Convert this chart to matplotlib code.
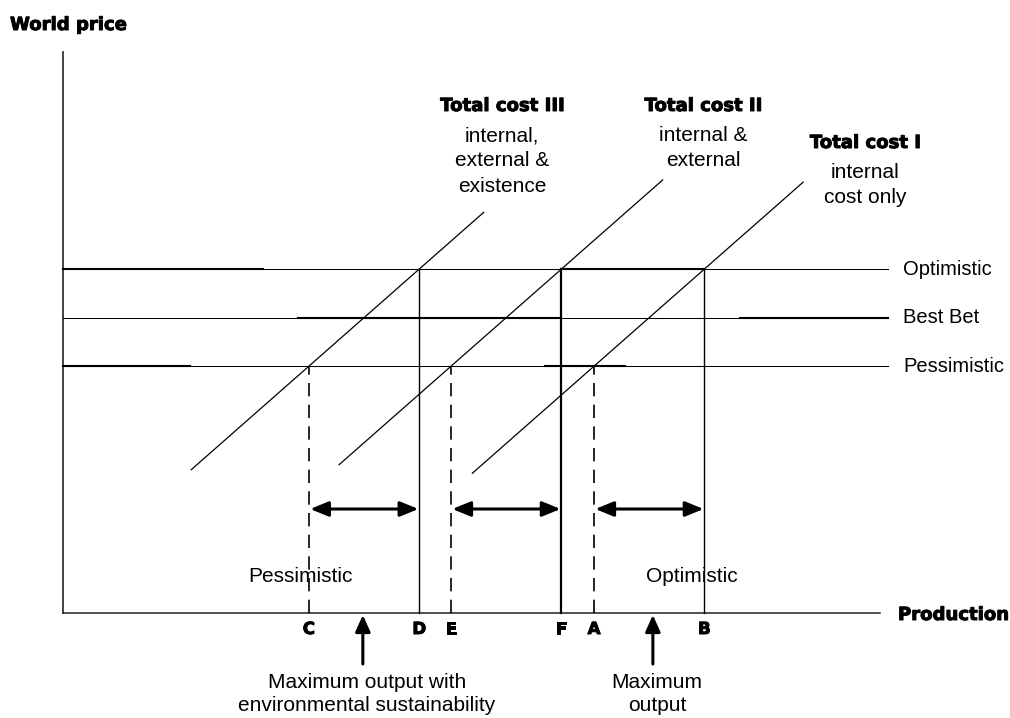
import matplotlib
matplotlib.use("Agg")
import matplotlib.pyplot as plt
from matplotlib.patheffects import withStroke

# ---------------- data ----------------
price_labels = ["Optimistic", "Best Bet", "Pessimistic"]
price_levels = [61.3, 52.6, 44.0]          # world price scenarios

curve_titles = ["Total cost III", "Total cost II", "Total cost I"]
curve_notes = ["internal,\nexternal &\nexistence", "internal &\nexternal", "internal\ncost only"]
curve_x_pess = [30.1, 47.5, 65.0]          # output where curve meets pessimistic price
curve_x_opt = [43.6, 61.0, 78.5]           # output where curve meets optimistic price
curve_x_start = [15.7, 33.8, 50.1]
curve_x_end = [51.5, 73.4, 90.6]
pess_letters = ["C", "E", "A"]
opt_letters = ["D", "F", "B"]

range_labels = ["Pessimistic", "Optimistic"]
max_output_x = [36.7, 72.2]
max_output_labels = ["Maximum output with\nenvironmental sustainability", "Maximum\noutput"]

# ---------------- layout ----------------
W, H = 1010, 718
X0, Y0, SX, SY = 63, 613, 8.17, 5.61      # origin (px) and px per unit


def tx(px):
    return (px - X0) / SX


def ty(py):
    return (Y0 - py) / SY


fig = plt.figure(figsize=(W / 100, H / 100), dpi=100)
ax = fig.add_axes([0, 0, 1, 1])
ax.set_xlim(tx(0), tx(W))
ax.set_ylim(ty(H), ty(0))
ax.axis("off")

REG = dict(family=["Liberation Sans", "DejaVu Sans"], fontsize=15, color="black")
BOLD = dict(family=["DejaVu Sans"], fontsize=13, fontweight="bold", color="black",
            path_effects=[withStroke(linewidth=0.7, foreground="black")])

thin = 0.75
thick = 1.5

# axes
ax.plot([0, 0], [0, 100], color="#333333", lw=1.3)
ax.plot([0, 100], [0, 0], color="#222222", lw=1.1)
ax.text(tx(10), ty(25), "World price", ha="left", va="center", **BOLD)
ax.text(tx(898), ty(615), "Production", ha="left", va="center", **BOLD)

# price lines
line_end = tx(888)
for lab, lv in zip(price_labels, price_levels):
    ax.plot([0, line_end], [lv, lv], color="black", lw=thin)
    ax.text(tx(903), lv, lab, ha="left", va="center", **{**REG, "fontsize": 14.5})

# emphasised parts of the price lines (as in the printed figure)
opt, best, pess = price_levels
emph = [(opt, 0, tx(263)), (opt, curve_x_opt[1], curve_x_opt[2]),
        (best, tx(298), curve_x_opt[1]), (best, tx(740), line_end),
        (pess, 0, tx(190)), (pess, tx(545), tx(625))]
for lv, a, b in emph:
    ax.plot([a, b], [lv, lv], color="black", lw=thick)

# cost curves
for i in range(3):
    slope = (opt - pess) / (curve_x_opt[i] - curve_x_pess[i])
    xs = [curve_x_start[i], curve_x_end[i]]
    ys = [pess + slope * (x - curve_x_pess[i]) for x in xs]
    ax.plot(xs, ys, color="black", lw=0.9)

# curve labels
title_pos = [(502, 106), (703, 106), (865, 143)]
for (px, py), t, n in zip(title_pos, curve_titles, curve_notes):
    ax.text(tx(px), ty(py), t, ha="center", va="center", **BOLD)
    ax.text(tx(px), ty(py + 20), n, ha="center", va="top", linespacing=1.42, **REG)

# verticals
opt_lw = [1.0, 1.6, 1.0]
for i in range(3):
    ax.plot([curve_x_pess[i]] * 2, [0, pess], color="black", lw=1.2,
            dashes=(8, 5))
    ax.plot([curve_x_opt[i]] * 2, [0, opt], color="black", lw=opt_lw[i])
    ax.text(curve_x_pess[i], ty(629), pess_letters[i], ha="center", va="center",
            **{**BOLD, "fontsize": 12})
    ax.text(curve_x_opt[i], ty(629), opt_letters[i], ha="center", va="center",
            **{**BOLD, "fontsize": 12})

# double arrows showing the output range of each curve
ARROW_Y = ty(509)
for i in range(3):
    ax.annotate("", xy=(curve_x_opt[i] - 0.1, ARROW_Y), xytext=(curve_x_pess[i] + 0.15, ARROW_Y),
                arrowprops=dict(arrowstyle="<|-|>,head_length=1.1,head_width=0.45",
                                lw=2.2, color="black", shrinkA=0, shrinkB=0))

# range labels
ax.text(tx(300), ty(577), range_labels[0], ha="center", va="center", **REG)
ax.text(tx(692), ty(577), range_labels[1], ha="center", va="center", **REG)

# maximum output arrows
for x, lab in zip(max_output_x, max_output_labels):
    ax.annotate("", xy=(x, ty(615)), xytext=(x, ty(664)),
                arrowprops=dict(arrowstyle="-|>,head_length=1.0,head_width=0.45",
                                lw=2.2, color="black", shrinkA=0, shrinkB=0))
    ax.text(x + tx(67) - tx(63), ty(673), lab, ha="center", va="top",
            linespacing=1.26, **REG)

fig.savefig("out.png", dpi=100)
